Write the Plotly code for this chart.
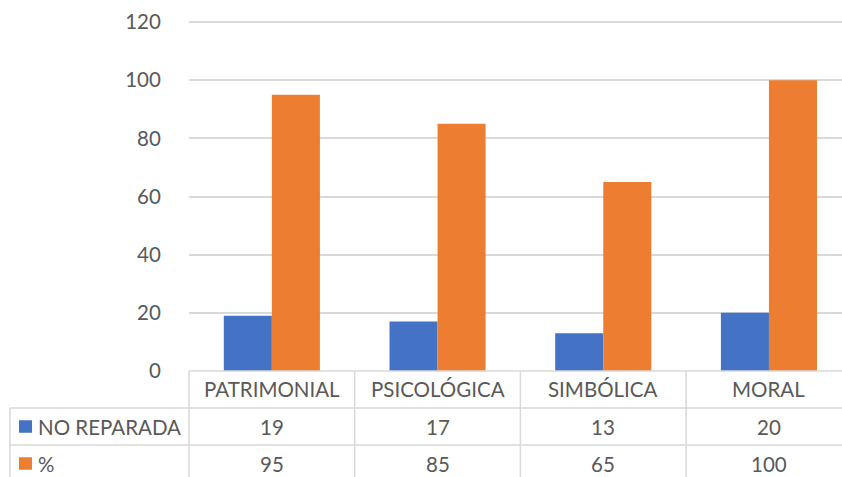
import plotly.graph_objects as go

categories = ["PATRIMONIAL", "PSICOLÓGICA", "SIMBÓLICA", "MORAL"]
series_names = ["NO REPARADA", "%"]
no_reparada = [19, 17, 13, 20]
porcentaje = [95, 85, 65, 100]
colors = ["#4472C4", "#ED7D31"]
y_ticks = [0, 20, 40, 60, 80, 100, 120]

W, H = 842, 477
ML, MT, MB = 189, 18, 106
plot_w = W - ML
plot_h = H - MT - MB
cat_w = 165.7
xmin = -0.5
xmax = xmin + plot_w / cat_w
ymax = 120 * plot_h / (plot_h - 4)

FONT = "Lato"
TXT = "#595959"
GRID = "#D9D9D9"
FS = 20.5

fig = go.Figure()
for name, vals, col in zip(series_names, [no_reparada, porcentaje], colors):
    fig.add_trace(go.Bar(x=list(range(len(categories))), y=vals, name=name,
                         marker=dict(color=col, line=dict(width=0))))

def px_y(py):
    return (H - MB - py) / plot_h

def px_x(px):
    return (px - ML) / plot_w

def data_x(v):
    return (v - xmin) / (xmax - xmin)

shapes = []
line = dict(color=GRID, width=1.5)
table_bottom = px_y(H + 5)
row1 = px_y(408)
row2 = px_y(445)
shapes.append(dict(type="line", xref="paper", yref="paper", x0=0, x1=1, y0=0, y1=0, line=line))
for ry in [row1, row2]:
    shapes.append(dict(type="line", xref="paper", yref="paper", x0=px_x(10), x1=1, y0=ry, y1=ry, line=line))
for k in range(len(categories)):
    xv = data_x(k - 0.5)
    shapes.append(dict(type="line", xref="paper", yref="paper", x0=xv, x1=xv, y0=0, y1=table_bottom, line=line))
shapes.append(dict(type="line", xref="paper", yref="paper", x0=px_x(10), x1=px_x(10), y0=row1, y1=table_bottom, line=line))

annotations = []
rows_y = [px_y(389), px_y(426.5), px_y(463.5)]
for i, c in enumerate(categories):
    annotations.append(dict(x=i, y=rows_y[0], xref="x", yref="paper", text=c, showarrow=False,
                            font=dict(family=FONT, size=FS, color=TXT), xanchor="center", yanchor="middle"))
for r, (name, vals, col) in enumerate(zip(series_names, [no_reparada, porcentaje], colors)):
    yy = rows_y[r + 1]
    for i, v in enumerate(vals):
        annotations.append(dict(x=i, y=yy, xref="x", yref="paper", text=str(v), showarrow=False,
                                font=dict(family=FONT, size=FS, color=TXT), xanchor="center", yanchor="middle"))
    annotations.append(dict(x=px_x(36), y=yy, xref="paper", yref="paper", text=name, showarrow=False,
                            font=dict(family=FONT, size=FS, color=TXT), xanchor="left", yanchor="middle"))
    sq = 12.5 / plot_h
    shapes.append(dict(type="rect", xref="paper", yref="paper", x0=px_x(19), x1=px_x(32),
                       y0=yy - sq / 2, y1=yy + sq / 2, fillcolor=col, line=dict(width=0)))

fig.update_layout(
    width=W, height=H,
    margin=dict(l=ML, r=0, t=MT, b=MB, pad=0),
    paper_bgcolor="white", plot_bgcolor="white",
    barmode="group", bargap=0.42, bargroupgap=0,
    showlegend=False,
    shapes=shapes, annotations=annotations,
    font=dict(family=FONT, size=FS, color=TXT),
    xaxis=dict(range=[xmin, xmax], showticklabels=False, showgrid=False, zeroline=False,
               showline=False, ticks=""),
    yaxis=dict(range=[0, ymax], tickvals=y_ticks, showgrid=True, gridcolor=GRID, gridwidth=1.5,
               zeroline=False, showline=False, ticks="outside", ticklen=23, tickcolor="rgba(0,0,0,0)",
               tickfont=dict(family=FONT, size=FS, color=TXT)),
)

fig.write_html("out.html", config={"displayModeBar": False},
               post_script="document.body.style.margin='0';document.body.style.overflow='hidden';")
